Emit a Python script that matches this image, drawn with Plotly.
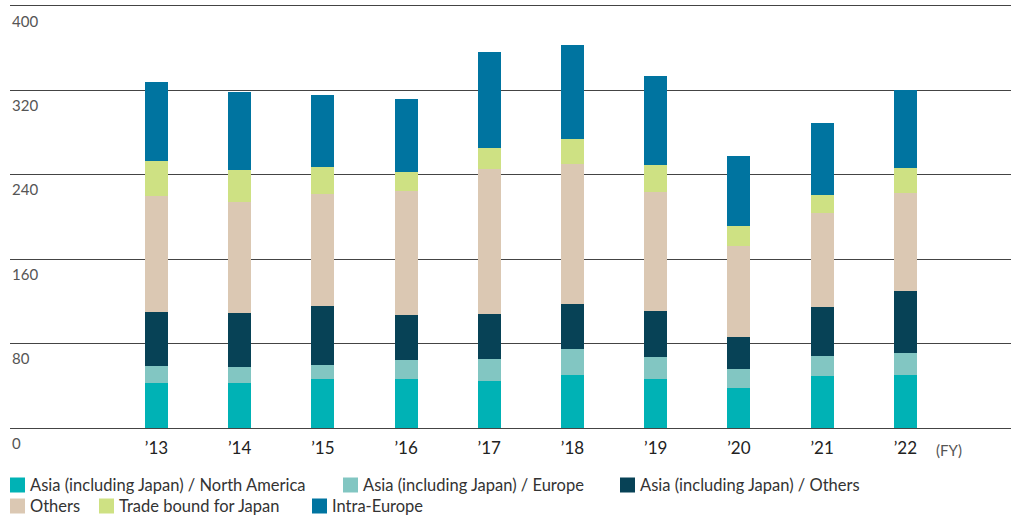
import plotly.graph_objects as go

# Fiscal years on the horizontal axis
years = ["’13", "’14", "’15", "’16", "’17", "’18", "’19", "’20", "’21", "’22"]

# Stacked segments, bottom to top
asia_north_america = [42.9, 42.9, 46.6, 46.6, 44.8, 50.4, 46.6, 38.1, 49.5, 50.4]
asia_europe = [16.0, 15.1, 13.3, 18.0, 20.8, 24.6, 21.1, 18.0, 19.2, 20.9]
asia_others = [51.1, 51.1, 55.8, 42.6, 42.5, 42.6, 43.5, 30.4, 45.6, 58.6]
others = [110.1, 105.0, 106.3, 117.0, 137.2, 132.5, 112.8, 86.3, 89.4, 92.7]
trade_japan = [32.8, 30.3, 25.2, 18.3, 19.9, 23.6, 25.2, 18.6, 17.0, 23.7]
intra_europe = [74.7, 73.8, 68.1, 69.0, 90.8, 88.9, 84.1, 66.2, 68.1, 73.7]

y_ticks = [0, 80, 160, 240, 320, 400]

series = [
    ("Asia (including Japan) / North America", asia_north_america, "#00B2B5"),
    ("Asia (including Japan) / Europe", asia_europe, "#82C6C2"),
    ("Asia (including Japan) / Others", asia_others, "#074256"),
    ("Others", others, "#DBC8B3"),
    ("Trade bound for Japan", trade_japan, "#CEE183"),
    ("Intra-Europe", intra_europe, "#0074A0"),
]

W, H = 1011, 517
M_L, M_R, M_T, M_B = 10, 0, 6, 89
PLOT_W = W - M_L - M_R
PLOT_H = H - M_T - M_B
FONT = "Lato"


def px_to_paper_x(px):
    return (px - M_L) / PLOT_W


def px_to_paper_y(py):
    return (H - M_B - py) / PLOT_H


x_pos = list(range(len(years)))

fig = go.Figure()
for name, vals, color in series:
    fig.add_trace(go.Bar(
        x=x_pos, y=vals, name=name, width=0.276,
        marker=dict(color=color, line=dict(width=0)),
        showlegend=False,
    ))

# y tick labels sit just below each gridline at the left edge
annotations = [
    dict(x=0, xref="paper", xanchor="left", xshift=0,
         y=v, yref="y", yanchor="middle", yshift=-14.5,
         text=str(v), showarrow=False,
         font=dict(family=FONT, size=15, color="#555555"))
    for v in y_ticks
]
annotations.append(dict(
    x=9.52, xref="x", xanchor="center",
    y=0, yref="paper", yanchor="middle", yshift=-22,
    text="(FY)", showarrow=False,
    font=dict(family=FONT, size=15, color="#555555")))

# Legend: two rows of colour swatches with labels
legend_left = [10, 343, 620, 10, 99, 312]
legend_mid = [485, 485, 485, 506, 506, 506]
SW = 15
shapes = []
for (name, _, color), lx, ly in zip(series, legend_left, legend_mid):
    shapes.append(dict(
        type="rect", xref="paper", yref="paper",
        x0=px_to_paper_x(lx), x1=px_to_paper_x(lx + SW),
        y0=px_to_paper_y(ly + SW / 2), y1=px_to_paper_y(ly - SW / 2),
        fillcolor=color, line=dict(width=0), layer="above",
    ))
    annotations.append(dict(
        x=px_to_paper_x(lx + SW + 4), xref="paper", xanchor="left",
        y=px_to_paper_y(ly), yref="paper", yanchor="middle",
        text=name, showarrow=False, borderpad=0,
        font=dict(family=FONT, size=16.5, color="#333333"),
    ))

fig.update_layout(
    width=W, height=H,
    margin=dict(l=M_L, r=M_R, t=M_T, b=M_B),
    paper_bgcolor="white", plot_bgcolor="white",
    barmode="stack",
    font=dict(family=FONT, size=16, color="#333333"),
    showlegend=False,
    xaxis=dict(
        range=[-1.76, 10.27], tickvals=x_pos, ticktext=years,
        showgrid=False, zeroline=False,
        showline=True, mirror=True, linecolor="#444444", linewidth=1,
        ticks="outside", ticklen=5, tickcolor="rgba(0,0,0,0)",
        tickfont=dict(family=FONT, size=17, color="#222222"),
    ),
    yaxis=dict(
        range=[0, 400], tickvals=y_ticks, showticklabels=False,
        showgrid=True, gridcolor="#444444", gridwidth=1,
        zeroline=True, zerolinecolor="#000000", zerolinewidth=1,
        showline=False,
    ),
    shapes=shapes,
    annotations=annotations,
    bargap=0,
)

fig.write_html("out.html")
